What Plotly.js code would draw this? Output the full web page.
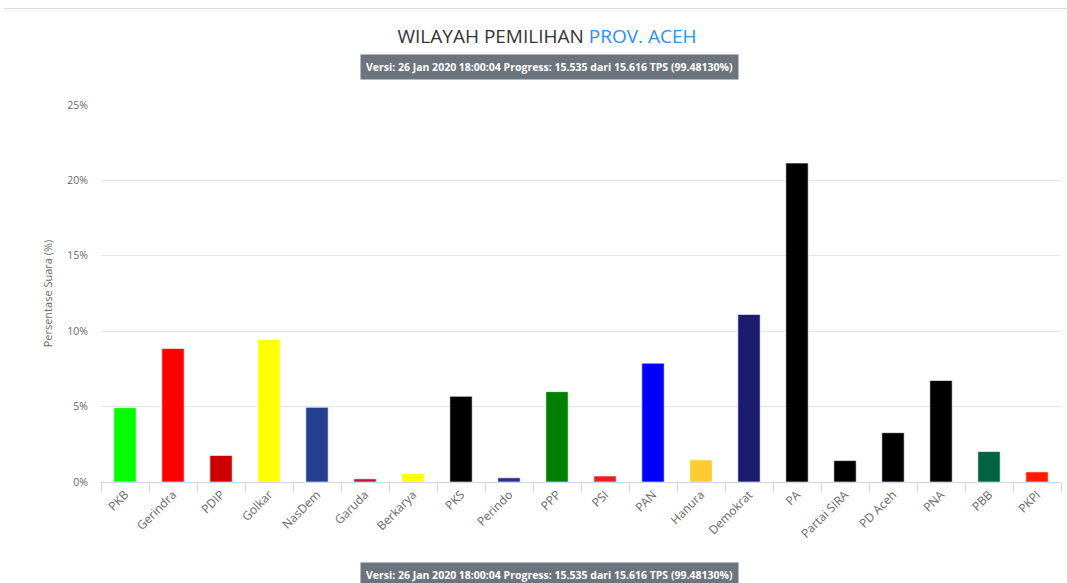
<!DOCTYPE html>
<html>
<head>
<meta charset="utf-8">
<script src="https://cdn.plot.ly/plotly-3.0.1.min.js"></script>
<style>
  html, body { margin: 0; padding: 0; background: #fff; overflow: hidden; }
  #topline { position: absolute; left: 4px; right: 0; top: 8px; height: 1px; background: #dcdcdc; box-shadow: 0 2px 3px rgba(0,0,0,0.08); z-index: 10; }
  #chart { width: 1067px; height: 583px; }
</style>
</head>
<body>
<div id="topline"></div>
<div id="chart"></div>
<script>
const parties = ["PKB","Gerindra","PDIP","Golkar","NasDem","Garuda","Berkarya","PKS","Perindo","PPP","PSI","PAN","Hanura","Demokrat","PA","Partai SIRA","PD Aceh","PNA","PBB","PKPI"];
const votePct = [4.93, 8.85, 1.76, 9.44, 4.95, 0.21, 0.56, 5.68, 0.28, 5.99, 0.40, 7.88, 1.47, 11.11, 21.15, 1.42, 3.27, 6.73, 2.02, 0.67];
const barColors = ["#00ff00","#ff0000","#cc0000","#ffff00","#24418f","#c8102e","#ffff00","#000000","#2a2f8c","#008000","#ed1c24","#0000ff","#ffcc33","#1c1c6e","#000000","#000000","#000000","#000000","#006341","#ff1a00"];
const yTickVals = [0, 5, 10, 15, 20, 25];
const yTickText = ["0%","5%","10%","15%","20%","25%"];
const titleMain = "WILAYAH PEMILIHAN ";
const titleRegion = "PROV. ACEH";
const versionText = "Versi: 26 Jan 2020 18:00:04 Progress: 15.535 dari 15.616 TPS (99.48130%)";

const trace = {
  type: "bar",
  x: parties,
  y: votePct,
  marker: { color: barColors, line: { color: "rgba(255,255,255,0.6)", width: 1 } },
  hoverinfo: "x+y"
};

const fontFam = "'Open Sans', 'DejaVu Sans', sans-serif";

const layout = {
  width: 1067,
  height: 583,
  margin: { l: 101, r: 6, t: 105, b: 101 },
  paper_bgcolor: "#ffffff",
  plot_bgcolor: "#ffffff",
  bargap: 0.535,
  showlegend: false,
  title: {
    text: titleMain + "<span style='color:#2e8ef5'>" + titleRegion + "</span>",
    x: 0.4646, xanchor: "center", xref: "paper",
    y: 1 - 36 / 583, yref: "container", yanchor: "middle",
    font: { family: fontFam, size: 19, color: "#333333" }
  },
  xaxis: {
    type: "category",
    showgrid: false,
    showline: true,
    linecolor: "#ccd6eb",
    linewidth: 1,
    ticks: "outside",
    tickson: "boundaries",
    ticklen: 10,
    tickcolor: "#ccd6eb",
    tickangle: -45,
    tickfont: { family: fontFam, size: 12, color: "#666666" },
    zeroline: false,
    fixedrange: true
  },
  yaxis: {
    range: [0, 25],
    tickvals: yTickVals,
    ticktext: yTickText,
    showgrid: true,
    gridcolor: "#e6e6e6",
    gridwidth: 1,
    zeroline: false,
    showline: false,
    ticks: "",
    ticklabelstandoff: 12,
    tickfont: { family: fontFam, size: 10.5, color: "#666666" },
    title: { text: "Persentase Suara (%)", font: { family: fontFam, size: 11, color: "#666666" }, standoff: 12 },
    fixedrange: true
  },
  annotations: [
    {
      text: "<b>" + versionText + "</b>",
      xref: "paper", yref: "paper",
      x: 0.4667, y: 1 + (105 - 67) / 377,
      xanchor: "center", yanchor: "middle",
      showarrow: false,
      bgcolor: "#6c757d",
      borderpad: 5,
      font: { family: fontFam, size: 10.5, color: "#ffffff" }
    },
    {
      text: "<b>" + versionText + "</b>",
      xref: "paper", yref: "paper",
      x: 0.4667, y: 1 - (575 - 105) / 377,
      xanchor: "center", yanchor: "middle",
      showarrow: false,
      bgcolor: "#6c757d",
      borderpad: 5,
      font: { family: fontFam, size: 10.5, color: "#ffffff" }
    }
  ]
};

Plotly.newPlot("chart", [trace], layout, { displayModeBar: false, staticPlot: false });
</script>
</body>
</html>
